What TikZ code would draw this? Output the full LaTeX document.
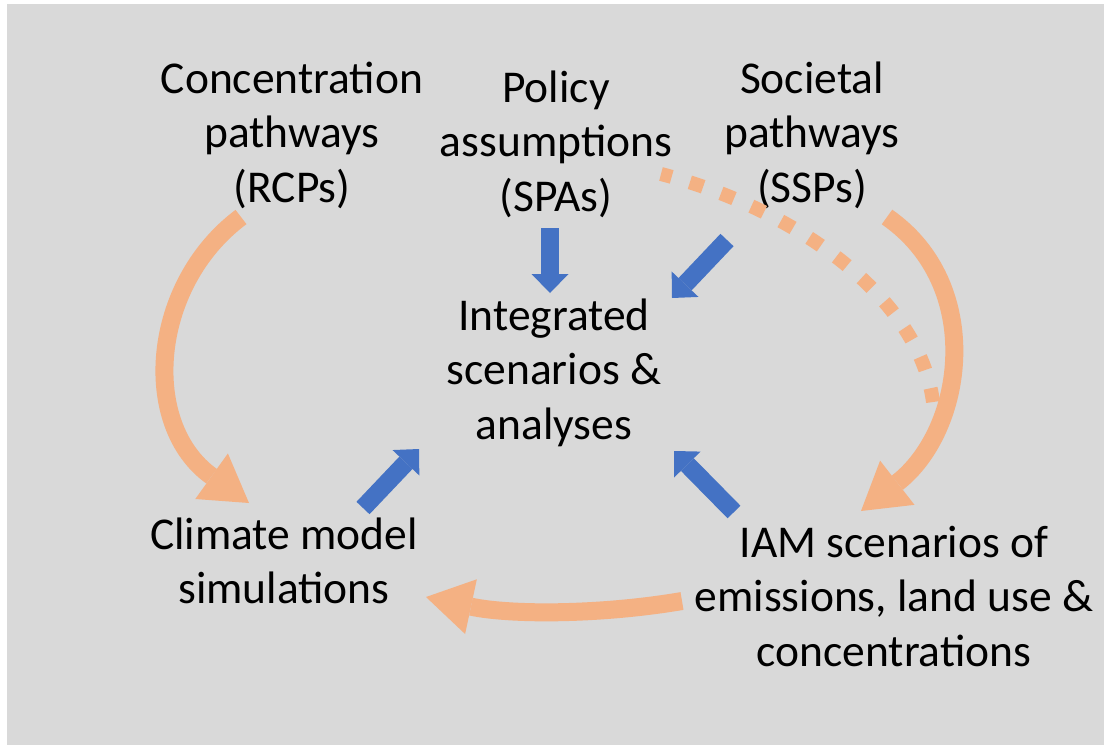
\documentclass[tikz,border=0pt]{standalone}
\usepackage{fontspec}
\setmainfont{Carlito}
\usetikzlibrary{arrows.meta}
\definecolor{bg}{HTML}{D9D9D9}
\definecolor{peach}{HTML}{F4B183}
\definecolor{azure}{HTML}{4472C4}
\begin{document}
\begin{tikzpicture}[x=1pt,y=-1pt,
  lbl/.style={font=\fontsize{45.5}{54.5}\selectfont, align=center, inner sep=0pt, anchor=north, text=black},
  flow/.style={draw=peach, line width=18pt, -{Triangle[length=46pt,width=56pt,line width=0pt]}},
  feed/.style={draw=azure, line width=18pt, -{Triangle[length=19pt,width=37pt,line width=0pt]}},
  hint/.style={draw=peach, line width=14pt, dash pattern=on 14pt off 19pt}]
\fill[white] (0,0) rectangle (1104,745);
\fill[bg] (7,4) rectangle (1104,745);
\useasboundingbox (0,0) rectangle (1104,745);

% text nodes
\node[lbl] (rcp) at (292,55) {\strut Concentration\\pathways\\(RCPs)\strut};
\node[lbl] (spa) at (556,64) {\strut Policy\\assumptions\\(SPAs)\strut};
\node[lbl] (ssp) at (812,55) {\strut Societal\\pathways\\(SSPs)\strut};
\node[lbl] (int) at (554,292) {\strut Integrated\\scenarios \&\\analyses\strut};
\node[lbl] (clm) at (284,511) {\strut Climate model\\simulations\strut};
\node[lbl] (iam) at (894,519) {\strut IAM scenarios of\\emissions, land use \&\\concentrations\strut};

% connector end points
\coordinate (spaDots) at (661,174);
\coordinate (iamDots) at (933,402);
\coordinate (rcpOut) at (241,217);
\coordinate (clmIn) at (249,503);
\coordinate (sspOut) at (887,217);
\coordinate (iamIn) at (861,511);
\coordinate (iamOut) at (682,601);
\coordinate (clmIn2) at (426,597);
\coordinate (spaOut) at (550,228);
\coordinate (intN) at (550,293);
\coordinate (sspOut2) at (727,240);
\coordinate (intNE) at (672,298);
\coordinate (clmOut) at (363,508);
\coordinate (intSW) at (419,449);
\coordinate (iamOut2) at (734,512);
\coordinate (intSE) at (674,451);

% orange flows
\draw[hint] (iamDots) .. controls (920,300) and (800,210) .. (spaDots);
\draw[flow] (rcpOut) .. controls (150,285) and (140,425) .. (clmIn);
\draw[flow] (sspOut) .. controls (985,285) and (965,430) .. (iamIn);
\draw[flow] (iamOut) .. controls (600,615) and (510,615) .. (clmIn2);

% blue feeds
\draw[feed] (spaOut) -- (intN);
\draw[feed] (sspOut2) -- (intNE);
\draw[feed] (clmOut) -- (intSW);
\draw[feed] (iamOut2) -- (intSE);
\end{tikzpicture}
\end{document}
